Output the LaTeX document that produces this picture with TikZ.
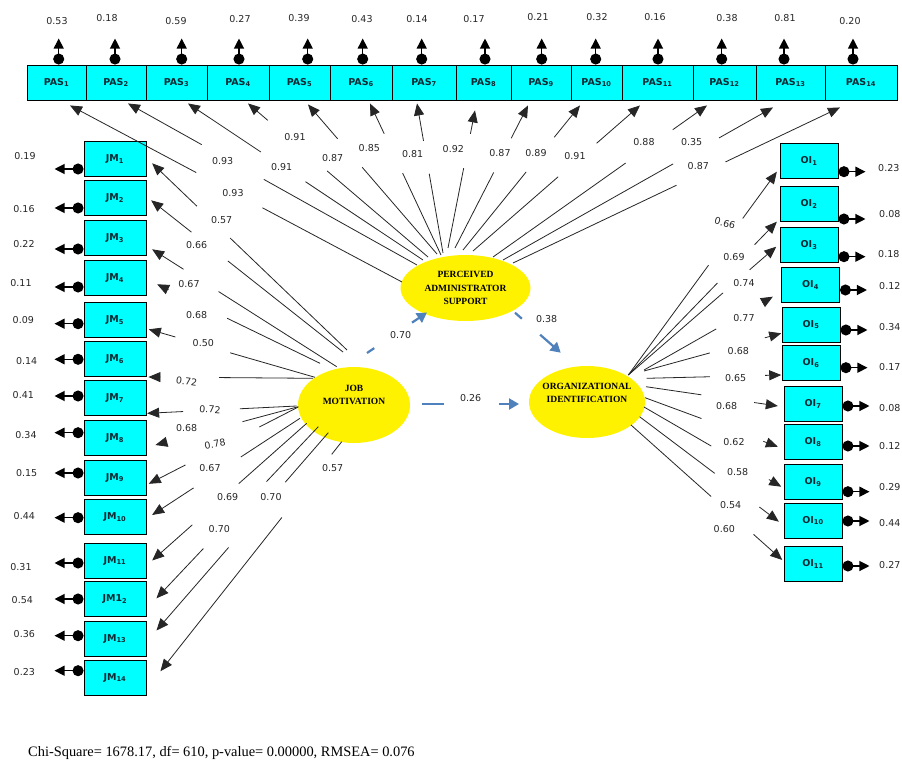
\documentclass[tikz,border=0pt]{standalone}
\usepackage{fontspec}
\setmainfont{Liberation Serif}
\newfontfamily\verdana{DejaVu Sans}
\usetikzlibrary{arrows.meta,calc,shapes.geometric}
\definecolor{pathblue}{HTML}{4F81BD}
\definecolor{boxcyan}{HTML}{00FFFF}
\definecolor{boxtext}{HTML}{0B2A33}
\tikzset{
    obs-box/.style = {draw=black, fill=boxcyan, line width=0.9pt, rectangle, inner sep=0pt, minimum height=35pt, text=boxtext, font=\verdana\bfseries\fontsize{9.5}{10}\selectfont},
    latent/.style = {ellipse, fill=yellow, inner sep=0pt},
    latent-text/.style = {align=center, inner sep=0pt, font=\bfseries\fontsize{9.5}{13.5}\selectfont},
    value/.style = {text=black!85, inner sep=0pt, font=\verdana\fontsize{9.5}{10}\selectfont},
    load-line/.style = {draw=black!85, line width=0.8pt},
    load-tip/.style = {-{Triangle[length=12pt,width=10pt]}},
    error-arrow/.style = {line width=1.2pt, {Circle[length=11pt,width=11pt]}-{Triangle[length=10pt,width=10pt]}},
    struct-line/.style = {draw=pathblue, line width=2.2pt},
    struct-tip/.style = {-{Triangle[length=10pt,width=11pt]}},
}

\begin{document}
\begin{tikzpicture}[x=1pt, y=-1pt]
\fill[white] (0,0) rectangle (902,762);
\useasboundingbox (0,0) rectangle (902,762);

% latent variables
\node[latent, minimum width=130pt, minimum height=66pt] (support) at (465.5,288) {};
\node[latent-text] (support-text) at (support) {PERCEIVED\\ADMINISTRATOR\\SUPPORT};
\node[latent, minimum width=112pt, minimum height=76pt] (motiv) at (354,405) {};
\node[latent-text] (motiv-text) at ($(motiv)+(0,-10)$) {JOB\\MOTIVATION};
\node[latent, minimum width=116pt, minimum height=72pt] (ident) at (587,402) {};
\node[latent-text] (ident-text) at ($(ident)+(0,-9)$) {ORGANIZATIONAL\\IDENTIFICATION};

% indicator boxes
\foreach \i/\lft/\rgt in {1/27/86, 2/86/146, 3/146/207, 4/207/269, 5/269/330, 6/330/392, 7/392/456, 8/456/511, 9/511/571, 10/571/622, 11/622/693, 12/693/756, 13/756/825, 14/825/897}
    \node[obs-box, minimum width=\rgt-\lft] (PAS\i) at ({(\lft+\rgt)/2},82.5) {PAS\textsubscript{\i}};
\foreach \i/\y/\txt in {1/159/JM\textsubscript{1}, 2/198.3/JM\textsubscript{2}, 3/238/JM\textsubscript{3}, 4/278/JM\textsubscript{4}, 5/320/JM\textsubscript{5}, 6/359.3/JM\textsubscript{6}, 7/398/JM\textsubscript{7}, 8/438/JM\textsubscript{8}, 9/477.5/JM\textsubscript{9}, 10/517/JM\textsubscript{10}, 11/560.5/JM\textsubscript{11}, 12/599/JM1\textsubscript{2}, 13/638.5/JM\textsubscript{13}, 14/677.5/JM\textsubscript{14}}
    \node[obs-box, minimum width=62pt] (JM\i) at (115,\y) {\txt};
\foreach \i/\x/\y in {1/809/161, 2/809/204.3, 3/809/245.3, 4/810.5/285, 5/811/324.5, 6/811/363.3, 7/813/404.2, 8/813/442, 9/813/482, 10/813/520.5, 11/813/564.2}
    \node[obs-box, minimum width=58pt] (OI\i) at (\x,\y) {OI\textsubscript{\i}};

% error terms
\foreach \i/\dx/\vx/\vy/\val in {1/2.2/57/20.7/0.53, 2/-1/107/17.7/0.18, 3/5.2/176/20.7/0.59, 4/1/240/19/0.27, 5/8.2/299/18/0.39, 6/1.7/362/19/0.43, 7/-2.3/417/19/0.14, 8/1.5/474/19/0.17, 9/0.7/538/17/0.21, 10/-0.8/597/17/0.32, 11/0.5/655/17/0.16, 12/-2.8/727/18/0.38, 13/-6.5/785/18/0.81, 14/-8/850/20.7/0.20}{
    \draw[error-arrow] ($(PAS\i.north)+(\dx,0)$) -- ++(0,-26);
    \node[value] (ePAS\i) at (\vx,\vy) {\val};
}
\foreach \i/\dy/\vx/\vy/\val in {1/10/25/156/0.19, 2/9.7/24/209.3/0.16, 3/11/24/244.3/0.22, 4/9/21/282.7/0.11, 5/3.7/23.3/320/0.09, 6/0/26.7/360.7/0.14, 7/-2/23.3/395/0.41, 8/-5.3/26/435/0.34, 9/-4.5/26.7/472.7/0.15, 10/0.7/24.3/516/0.44, 11/2.5/21/566.7/0.31, 12/0/22.3/600/0.54, 13/-2.8/24.3/634/0.36, 14/-6.8/24.3/672/0.23}{
    \draw[error-arrow] ($(JM\i.west)+(0,\dy)$) -- ++(-29,0);
    \node[value] (eJM\i) at (\vx,\vy) {\val};
}
\foreach \i/\dy/\vx/\vy/\val in {1/10.7/878/168/0.23, 2/14.7/879/214/0.08, 3/11.4/878/254/0.18, 4/5/879/286/0.12, 5/5.5/879/327/0.34, 6/4.4/879/367/0.17, 7/1.8/879/408/0.08, 8/4/879/446/0.12, 9/9.7/879/487/0.29, 10/0.5/879/523/0.44, 11/1.8/879/565/0.27}{
    \draw[error-arrow] ($(OI\i.east)+(0,\dy)$) -- ++(27,0);
    \node[value, anchor=west] (eOI\i) at (\vx,\vy) {\val};
}

% loadings of perceived administrator support
\foreach \i/\sx/\sy/\ex/\ey/\ga/\gb/\val/\lx/\ly in {1/-63.5/-6/13.5/5/0.42/0.62/0.93/233/193, 2/-48.5/-23/12/3/0.53/0.745/0.93/222.7/161, 3/-42.5/-28/11.5/3/0.50/0.69/0.91/281.7/167.3, 4/-37.5/-31/10/3/0.56/0.89/0.91/295/136.7, 5/-28.5/-34/8.5/4/0.58/0.77/0.87/332.7/157.7, 6/-24.5/-33/9/3/0.54/0.80/0.85/369.3/148.3, 7/-22.5/-35/-7/3/0.53/0.75/0.81/412.7/154, 8/-17.5/-40/-8.5/10/0.58/0.83/0.92/453.3/149.3, 9/-10.5/-40/-13/5/0.53/0.77/0.87/500/153.3, 10/-2.5/-38/-16.5/5/0.54/0.78/0.89/536/152.7, 11/7.5/-37/-17.5/5/0.51/0.74/0.91/575/156, 12/27.5/-31/-17.5/5/0.62/0.84/0.88/644/141.7, 13/37.5/-28/-17.5/7/0.63/0.80/0.35/691.7/141.7, 14/47.5/-25/-21/7/0.50/0.65/0.87/698.3/166}{
    \coordinate (s) at ($(support)+(\sx,\sy)$);
    \coordinate (e) at ($(PAS\i.south)+(\ex,\ey)$);
    \draw[load-line] (s) -- ($(s)!\ga!(e)$);
    \draw[load-line, load-tip] ($(s)!\gb!(e)$) -- (e);
    \node[value] (lPAS\i) at (\lx,\ly) {\val};
}

% loadings of job motivation
\foreach \i/\sx/\sy/\ex/\ey/\ga/\gb/\val/\lx/\ly/\rot in {1/-7/-55/5.7/4.3/0.60/0.77/0.57/221.7/220/0, 2/-11/-53/4.7/2/0.60/0.79/0.66/196.7/245/0, 3/-17.3/-38.3/5.7/11.3/0.64/0.83/0.67/189/284.3/0, 4/-34/-41.7/10.7/6.3/0.57/0.93/0.68/196.7/315/0, 5/-39/-27.7/2.3/9.3/0.51/0.84/0.50/203.3/343.3/0, 6/-41/-26.7/2/17.7/0.57/0.93/0.72/186.7/381.7/-8, 7/-57.3/1/0.7/15.3/0.38/0.76/0.72/210/409.3/-4, 8/-55.7/1.7/9/7/0.39/0.93/0.68/186.7/428.3/0, 9/-55.7/2/2.3/6.3/0.26/0.755/0.78/215/444/10, 10/-54/13.3/5.7/-2/0.40/0.72/0.67/210/467.7/0, 11/-47.3/18.3/5.7/0/0.44/0.74/0.69/227.7/496.7/0, 12/-35.7/21.7/10/-0.7/0.32/0.71/0.70/219.3/529.3/0, 13/-25.7/27.7/10/-8/0.25/0.58/0.70/271/496.7/0, 14/-12.3/36.7/14/-6.3/0.055/0.33/0.57/332.7/467.7/0}{
    \coordinate (s) at ($(motiv)+(\sx,\sy)$);
    \coordinate (e) at ($(JM\i.east)+(\ex,\ey)$);
    \draw[load-line] (s) -- ($(s)!\ga!(e)$);
    \draw[load-line, load-tip] ($(s)!\gb!(e)$) -- (e);
    \node[value, rotate=\rot] (lJM\i) at (\lx,\ly) {\val};
}

% loadings of organizational identification
\foreach \i/\sx/\sy/\ex/\ey/\ga/\gb/\val/\lx/\ly/\rot in {1/41.3/-27/-2.7/10.7/0.54/0.77/0.66/725/223.3/-15, 2/41.3/-27/-2.7/17.4/0.60/0.85/0.69/734/256.7/0, 3/41.3/-27/-3.3/1.4/0.64/0.82/0.74/744/282.7/0, 4/57/-32/-8.2/11.7/0.56/0.93/0.77/744/318.3/0, 5/57/-31/-0.3/8.8/0.48/0.88/0.68/738.3/351/0, 6/59.7/-23.7/-0.3/11.7/0.47/0.88/0.65/735.7/377.7/0, 7/59/-15.3/-5.7/1.8/0.42/0.82/0.68/726.7/405.7/0, 8/58/-4.3/-5.7/4.7/0.425/0.89/0.62/734/441.7/0, 9/57/5/-2.3/4.7/0.49/0.91/0.58/737.7/471.7/0, 10/52.6/14.7/-4.7/1.2/0.54/0.86/0.54/730.7/505/0, 11/44/23/-1.3/-4.2/0.53/0.81/0.60/724.3/529.3/0}{
    \coordinate (s) at ($(ident)+(\sx,\sy)$);
    \coordinate (e) at ($(OI\i.west)+(\ex,\ey)$);
    \draw[load-line] (s) -- ($(s)!\ga!(e)$);
    \draw[load-line, load-tip] ($(s)!\gb!(e)$) -- (e);
    \node[value, rotate=\rot] (lOI\i) at (\lx,\ly) {\val};
}

% structural paths
\foreach \from/\sx/\sy/\to/\ex/\ey/\ga/\gb/\val/\lx/\ly in {motiv/13/-52/support/-38.5/24.5/0.12/0.75/0.70/400.7/335, support/49.5/24.7/ident/-26.3/-49.3/0.15/0.55/0.38/546.7/319, motiv/67.7/-1/ident/-68/2/0.23/0.79/0.26/470.7/398}{
    \coordinate (s) at ($(\from)+(\sx,\sy)$);
    \coordinate (e) at ($(\to)+(\ex,\ey)$);
    \draw[struct-line] (s) -- ($(s)!\ga!(e)$);
    \draw[struct-line, struct-tip] ($(s)!\gb!(e)$) -- (e);
    \node[value] (l-\from-\to) at (\lx,\ly) {\val};
}

% fit statistics
\node[anchor=west, inner sep=0pt, font=\fontsize{14.4}{16}\selectfont] (fit-stats) at (28,753) {Chi-Square= 1678.17, df= 610, p-value= 0.00000, RMSEA= 0.076};
\end{tikzpicture}
\end{document}
